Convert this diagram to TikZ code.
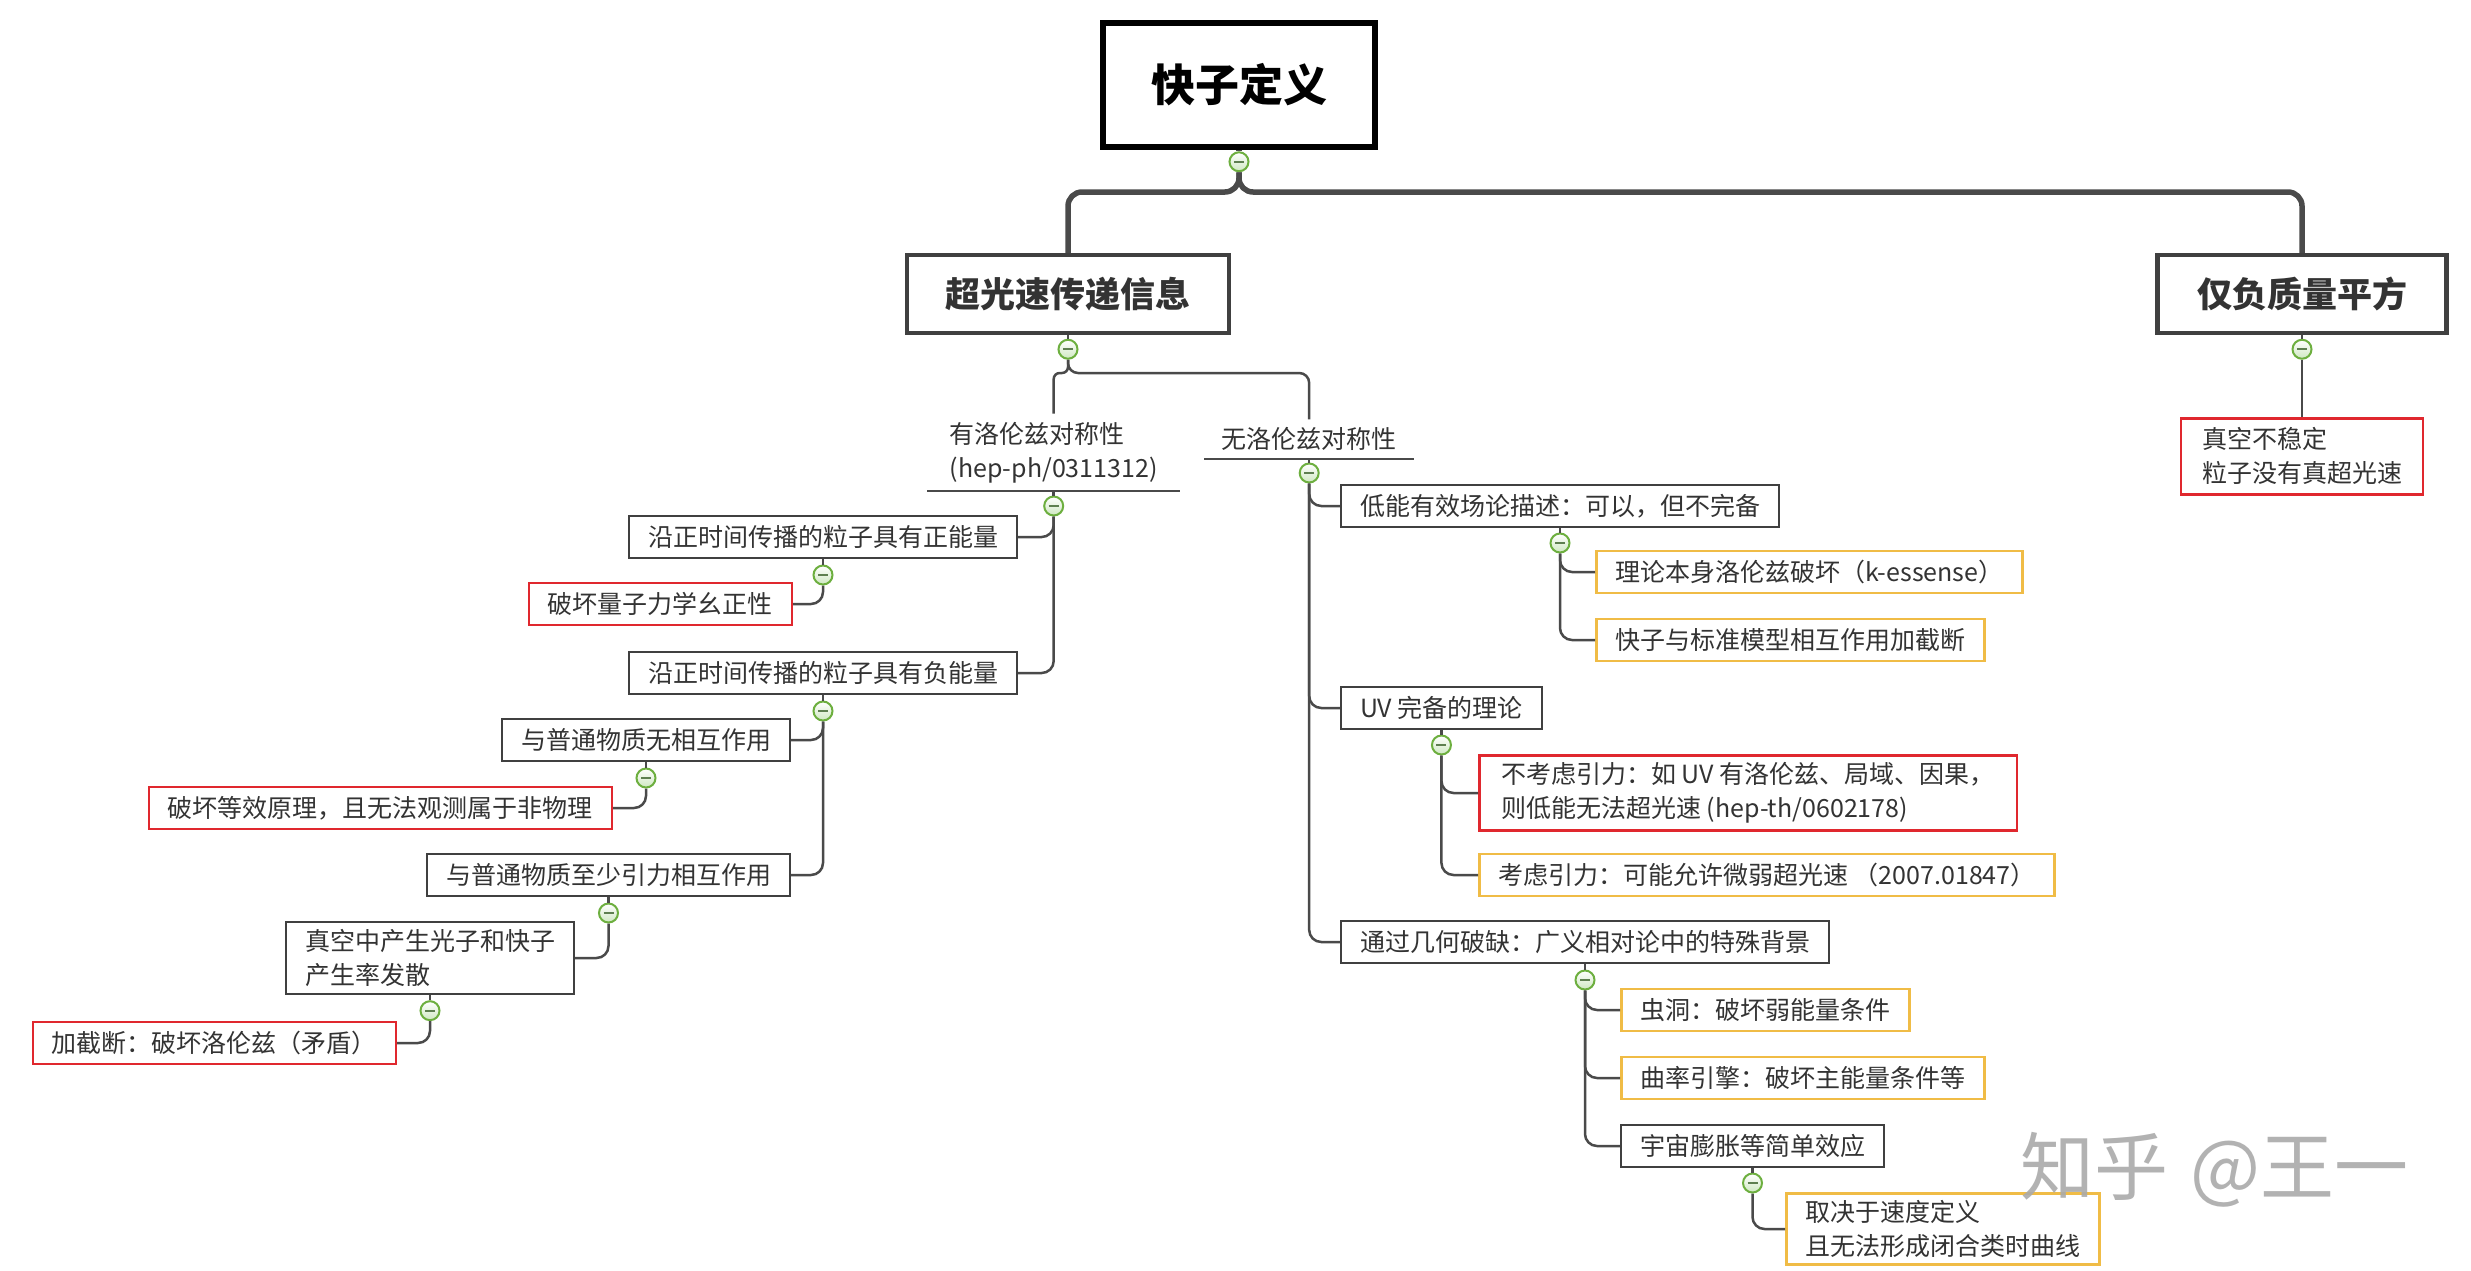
\documentclass[tikz,border=0pt]{standalone}
\usepackage{fontspec}
\setmainfont{Noto Sans CJK SC}
\definecolor{txt}{HTML}{333333}
\definecolor{boxc}{HTML}{404040}
\definecolor{linec}{HTML}{4A4A4A}
\definecolor{redc}{HTML}{E0282E}
\definecolor{orc}{HTML}{F0BC46}
\definecolor{togc}{HTML}{6DAF3F}
\definecolor{togf}{HTML}{CFE8C2}
\definecolor{togm}{HTML}{5E7F50}
\definecolor{wmc}{HTML}{AAAAAA}
\tikzset{
  every node/.style={font=\fontsize{25}{34}\selectfont, text=txt},
  box/.style={draw=boxc, line width=2pt, fill=white, inner xsep=19pt, inner ysep=7pt, minimum height=42pt, align=left},
  redbox/.style={box, draw=redc, line width=2.5pt},
  orbox/.style={box, draw=orc, line width=2.5pt},
  ulnode/.style={inner xsep=17pt, inner ysep=8pt, align=left},
  lvlone/.style={draw=boxc, line width=4.5pt, fill=white, minimum height=78pt, inner sep=0pt, font=\fontsize{35}{40}\selectfont\bfseries, text=txt},
  rootbox/.style={draw=black, line width=5.5pt, fill=white, minimum width=272pt, minimum height=124pt, inner sep=0pt, font=\fontsize{44}{50}\selectfont\bfseries, text=black},
  tog/.style={circle, draw=togc, line width=2pt, minimum size=19pt, inner sep=0pt, top color=white, bottom color=togf,
    path picture={\draw[line width=2pt, togm] ([xshift=-5pt]path picture bounding box.center) -- ([xshift=5pt]path picture bounding box.center);}},
  conn/.style={draw=linec, line width=2.5pt, rounded corners=12pt},
  rootconn/.style={draw=linec, line width=5.5pt, rounded corners=14pt},
}
\begin{document}
\begin{tikzpicture}[x=1pt,y=1pt]
\useasboundingbox[fill=white] (0,0) rectangle (2471,-1270);

% root and level one
\node[rootbox] (n0) at (1239,-85) {快子定义};
\node[tog] (c0) at ([yshift=-12pt]n0.south) {};
\node[lvlone, minimum width=322pt] (n1) at (1068,-294) {超光速传递信息};
\node[lvlone, minimum width=289pt] (n2) at (2302,-294) {仅负质量平方};
\node[tog] (c1) at ([yshift=-14pt]n1.south) {};
\node[tog] (c2) at ([yshift=-14pt]n2.south) {};
\coordinate (bar) at (0,-192);
\draw[rootconn] (n0.south) -- (c0.north);
\draw[rootconn] (c0.south) -- (c0.south |- bar) -| (n1.north);
\draw[rootconn] (c0.south) -- (c0.south |- bar) -| (n2.north);

% negative mass squared branch
\node[redbox, inner xsep=17pt, minimum width=242pt, minimum height=76pt, anchor=north] (neg2) at (2302,-417) {真空不稳定\\粒子没有真超光速};
\draw[conn] (n1.south) -- (c1.north);
\draw[conn] (n2.south) -- (c2.north);
\draw[conn] (c2.south) -- (neg2.north);

% lorentz / no lorentz
\node[ulnode, minimum width=253pt, anchor=south west] (lor) at (927,-491) {有洛伦兹对称性\\(hep-ph/0311312)};
\node[ulnode, minimum width=210pt, anchor=south west] (nolor) at (1204,-459) {无洛伦兹对称性};
\draw[conn, rounded corners=0pt] (lor.south west) -- (lor.south east);
\draw[conn, rounded corners=0pt] (nolor.south west) -- (nolor.south east);
\coordinate (bar1) at (0,-373);
\draw[conn, rounded corners=6pt] (c1.south) -- (c1.south |- bar1) -| (lor.north);
\draw[conn, rounded corners=10pt] (c1.south) -- (c1.south |- bar1) -| (nolor.north);
\node[tog] (clor) at ([yshift=-15pt]lor.south) {};
\node[tog] (cnolor) at ([yshift=-14pt]nolor.south) {};

% left subtree
\node[box, anchor=east] (pos) at (1018,-537) {沿正时间传播的粒子具有正能量};
\node[box, anchor=east] (neg) at (1018,-673) {沿正时间传播的粒子具有负能量};
\node[redbox, anchor=east] (unit) at (793,-604) {破坏量子力学幺正性};
\node[box, anchor=east] (noint) at (791,-740) {与普通物质无相互作用};
\node[redbox, anchor=east] (equiv) at (613,-808) {破坏等效原理，且无法观测属于非物理};
\node[box, anchor=east] (grav) at (791,-875) {与普通物质至少引力相互作用};
\node[box, anchor=east] (vac) at (575,-958) {真空中产生光子和快子\\产生率发散};
\node[redbox, anchor=east] (cut) at (397,-1043) {加截断：破坏洛伦兹（矛盾）};
\node[tog] (cpos) at ([yshift=-16pt]pos.south) {};
\node[tog] (cneg) at ([yshift=-16pt]neg.south) {};
\node[tog] (cnoint) at ([yshift=-16pt]noint.south) {};
\node[tog] (cgrav) at ([yshift=-16pt]grav.south) {};
\node[tog] (cvac) at ([yshift=-16pt]vac.south) {};
\draw[conn] (lor.south) -- (clor.north);
\draw[conn] (clor.south) |- (pos.east);
\draw[conn] (clor.south) |- (neg.east);
\draw[conn] (pos.south) -- (cpos.north);
\draw[conn] (cpos.south) |- (unit.east);
\draw[conn] (neg.south) -- (cneg.north);
\draw[conn] (cneg.south) |- (noint.east);
\draw[conn] (cneg.south) |- (grav.east);
\draw[conn] (noint.south) -- (cnoint.north);
\draw[conn] (cnoint.south) |- (equiv.east);
\draw[conn] (grav.south) -- (cgrav.north);
\draw[conn] (cgrav.south) |- (vac.east);
\draw[conn] (vac.south) -- (cvac.north);
\draw[conn] (cvac.south) |- (cut.east);

% right subtree
\node[box, anchor=west] (low) at (1340,-506) {低能有效场论描述：可以，但不完备};
\node[orbox, anchor=west] (kess) at (1595,-572) {理论本身洛伦兹破坏（k-essense）};
\node[orbox, anchor=west] (smint) at (1595,-640) {快子与标准模型相互作用加截断};
\node[box, anchor=west] (uv) at (1340,-708) {UV 完备的理论};
\node[redbox, anchor=west, inner xsep=22pt] (nograv) at (1478,-793) {不考虑引力：如 UV 有洛伦兹、局域、因果，\\则低能无法超光速 (hep-th/0602178)};
\node[orbox, anchor=west] (wgrav) at (1478,-875) {考虑引力：可能允许微弱超光速 （2007.01847）};
\node[box, anchor=west] (geo) at (1340,-942) {通过几何破缺：广义相对论中的特殊背景};
\node[orbox, anchor=west] (worm) at (1620,-1010) {虫洞：破坏弱能量条件};
\node[orbox, anchor=west] (warp) at (1620,-1078) {曲率引擎：破坏主能量条件等};
\node[box, anchor=west] (cosmo) at (1620,-1146) {宇宙膨胀等简单效应};
\node[orbox, anchor=west] (dep) at (1785,-1229) {取决于速度定义\\且无法形成闭合类时曲线};
\node[tog] (clow) at ([yshift=-15pt]low.south) {};
\node[tog] (cuv) at ([yshift=-15pt]uv.south) {};
\node[tog] (cgeo) at ([yshift=-16pt]geo.south) {};
\node[tog] (ccosmo) at ([yshift=-15pt]cosmo.south) {};
\draw[conn] (nolor.south) -- (cnolor.north);
\draw[conn] (cnolor.south) |- (low.west);
\draw[conn] (cnolor.south) |- (uv.west);
\draw[conn] (cnolor.south) |- (geo.west);
\draw[conn] (low.south) -- (clow.north);
\draw[conn] (clow.south) |- (kess.west);
\draw[conn] (clow.south) |- (smint.west);
\draw[conn] (uv.south) -- (cuv.north);
\draw[conn] (cuv.south) |- (nograv.west);
\draw[conn] (cuv.south) |- (wgrav.west);
\draw[conn] (geo.south) -- (cgeo.north);
\draw[conn] (cgeo.south) |- (worm.west);
\draw[conn] (cgeo.south) |- (warp.west);
\draw[conn] (cgeo.south) |- (cosmo.west);
\draw[conn] (cosmo.south) -- (ccosmo.north);
\draw[conn] (ccosmo.south) |- (dep.west);

% watermark
\node[anchor=west, inner sep=0pt, font=\fontsize{74}{74}\selectfont, text=wmc, opacity=0.9] (wm) at (2020,-1170) {知乎\hspace{22pt}@王一};
\end{tikzpicture}
\end{document}
